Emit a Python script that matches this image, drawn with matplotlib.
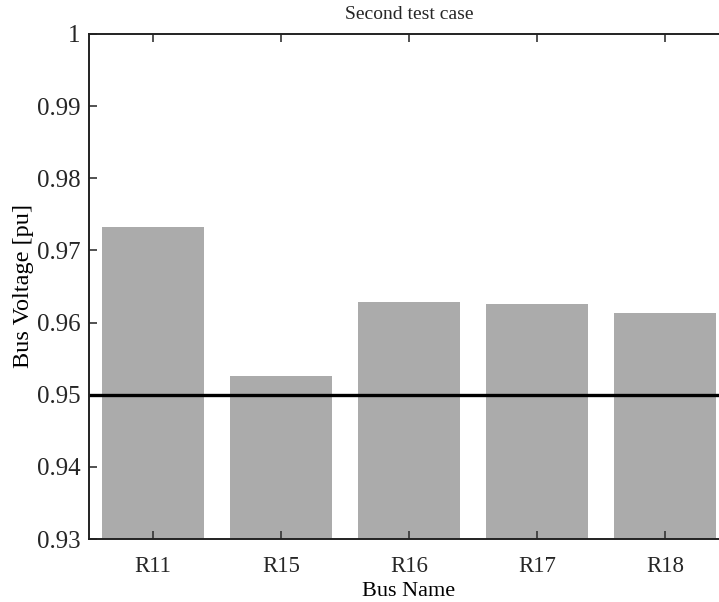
import numpy as np
import matplotlib; matplotlib.use("Agg"); import matplotlib.pyplot as plt
from matplotlib.ticker import FuncFormatter

buses=["R11","R15","R16","R17","R18"]
voltage=[0.9732,0.9526,0.9628,0.9626,0.9613]
limit=0.95
yticks=[0.93,0.94,0.95,0.96,0.97,0.98,0.99,1.0]

plt.rcParams["font.family"]=["Liberation Serif","DejaVu Serif"]
plt.rcParams["text.color"]="#262626"
fig=plt.figure(figsize=(7.19,6.02),dpi=100)
ax=fig.add_axes([89/719,63/602,640/719,505/602])
x=np.arange(1,len(buses)+1)
ax.bar(x,voltage,width=0.8,color="#ababab",zorder=1)
ax.axhline(limit,color="black",lw=2.4,zorder=2)
ax.set_xlim(0.5,5.5); ax.set_ylim(0.93,1.0)
ax.set_xticks(x); ax.set_xticklabels(buses)
ax.set_yticks(yticks)
ax.yaxis.set_major_formatter(FuncFormatter(lambda v,p: f"{v:g}"))
ax.tick_params(direction="in",length=6,width=1.2,top=True,right=True,color="#333333",labelcolor="#262626")
ax.tick_params(axis="y",labelsize=18,pad=6)
ax.tick_params(axis="x",labelsize=16.5,pad=12)
for s in ax.spines.values(): s.set_linewidth(1.4); s.set_color("#222222")
ax.set_xlabel("Bus Name",fontsize=16,labelpad=4)
ax.set_ylabel("Bus Voltage [pu]",fontsize=17.5,labelpad=2)
ax.set_title("Second test case",fontsize=14,pad=11)
fig.savefig("out.png",dpi=100)
